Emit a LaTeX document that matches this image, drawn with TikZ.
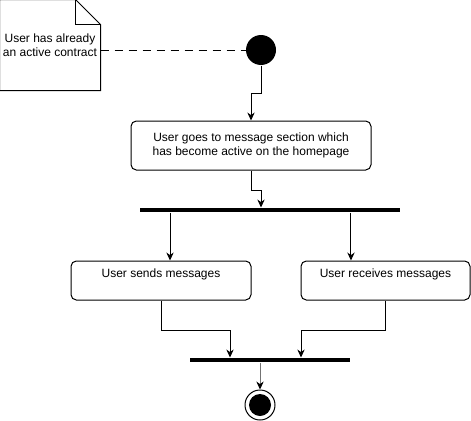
\documentclass[tikz,border=0pt]{standalone}
\usepackage{fontspec}
\setmainfont{Liberation Sans}
\usetikzlibrary{positioning,arrows.meta,calc}

\begin{document}
\begin{tikzpicture}[
  x=0.75pt, y=-0.75pt,
  >={Stealth[length=6pt,width=5.5pt]},
  every node/.style={font=\fontsize{9pt}{10.8pt}\selectfont},
  line width=0.75pt,
  action/.style={draw,rounded corners=4pt,align=center,inner sep=2pt},
  bar/.style={fill=black,inner sep=0pt,minimum height=3pt},
  initial/.style={circle,fill=black,inner sep=0pt,minimum size=22.5pt},
  final/.style={circle,draw,inner sep=0pt,minimum size=22.5pt},
  flow/.style={->}
]
  \useasboundingbox (0,0) rectangle (471,421);

  \node[align=center,minimum width=75pt,minimum height=67.5pt,inner sep=0pt] (note) at (50,45)
    {User has already\\an active contract};
  \draw (note.north west) -- ($(note.north east)+(-25,0)$) -- ($(note.north east)+(0,25)$)
    -- (note.south east) -- (note.south west) -- cycle;
  \draw ($(note.north east)+(-25,0)$) -- ($(note.north east)+(-25,25)$) -- ($(note.north east)+(0,25)$);

  \node[initial] (start) at (261,50) {};
  \node[action,minimum width=180pt,minimum height=36.75pt] (goes) at (251,145.5)
    {User goes to message section which\\has become active on the homepage};
  \node[bar,minimum width=195pt] (fork) at (270,210) {};
  \node[action,minimum width=135pt,minimum height=29.25pt,text depth=11pt] (sends) at (161,280.5)
    {User sends messages};
  \node[action,minimum width=126.75pt,minimum height=29.25pt,text depth=11pt] (receives) at (385.5,280.5)
    {User receives messages};
  \node[bar,minimum width=120pt] (join) at (270,360) {};
  \node[final] (stop) at (260,405) {};
  \fill (stop.center) circle[radius=8.25pt];

  \draw[dash pattern=on 6.5pt off 4pt] (note.east |- start) -- (start);
  \draw[flow] (start.south) -- ++(0,28) -| (goes.north);
  \draw[flow] (goes.south) -- ++(0,20) -| (start |- fork.north);
  \draw[flow] ([xshift=6.75pt]sends.north |- fork.south) -- ([xshift=6.75pt]sends.north);
  \draw[flow] ([xshift=-25.9pt]receives.north |- fork.south) -- ([xshift=-25.9pt]receives.north);
  \draw[flow] (sends.south) -- ++(0,30) -| ([xshift=-30pt]join.north);
  \draw[flow] (receives.south) -- ++(0,30) -| ([xshift=23.25pt]join.north);
  \draw[-{Stealth[length=6pt,width=5.5pt,color=black]},draw=black!55] (stop |- join.south) -- (stop.north);
\end{tikzpicture}
\end{document}
